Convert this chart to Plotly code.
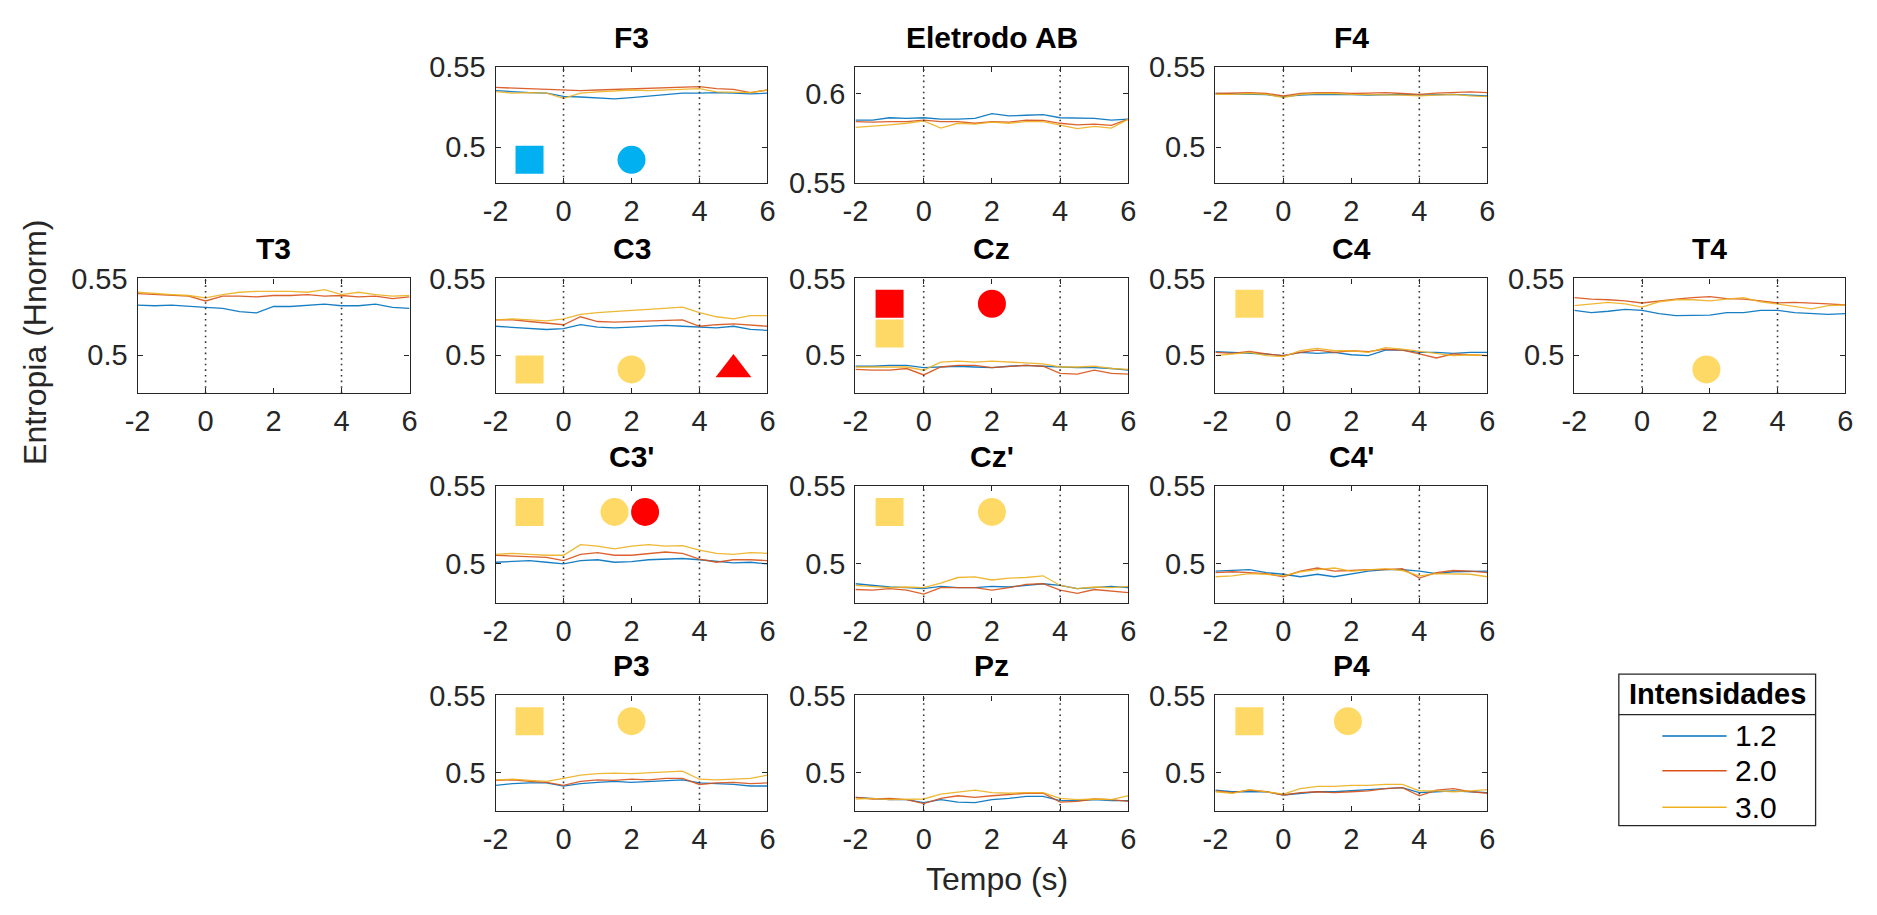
import plotly.graph_objects as go

W, H = 1877, 915

# ---------------- data ----------------
time_s = [-2, -1.5, -1, -0.5, 0, 0.5, 1, 1.5, 2, 2.5, 3, 3.5, 4, 4.5, 5, 5.5, 6]
intensities = ["1.2", "2.0", "3.0"]
x_ticks = [-2, 0, 2, 4, 6]
event_times = [0, 4]

F3_12 = [0.5353,0.5345,0.5341,0.5337,0.5317,0.5313,0.5309,0.5301,0.5309,0.5317,0.5325,0.5337,0.5337,0.5341,0.5337,0.5333,0.5337]
F3_20 = [0.5373,0.5369,0.5369,0.5365,0.5361,0.5353,0.5357,0.5361,0.5365,0.5365,0.5369,0.5373,0.5378,0.5365,0.5361,0.5341,0.5357]
F3_30 = [0.5347,0.5337,0.5341,0.5337,0.5305,0.5337,0.5345,0.5349,0.5357,0.5353,0.5357,0.5361,0.5365,0.5345,0.5341,0.5341,0.5357]

AB_12 = [0.5853,0.5853,0.5866,0.5862,0.5866,0.5858,0.5858,0.5862,0.5889,0.5876,0.5880,0.5884,0.5866,0.5866,0.5862,0.5853,0.5858]
AB_20 = [0.5844,0.5841,0.5844,0.5844,0.5853,0.5844,0.5844,0.5835,0.5844,0.5841,0.5853,0.5851,0.5835,0.5826,0.5830,0.5823,0.5858]
AB_30 = [0.5812,0.5817,0.5826,0.5835,0.5848,0.5808,0.5835,0.5830,0.5841,0.5835,0.5844,0.5844,0.5826,0.5805,0.5817,0.5808,0.5858]

F4_12 = [0.5335,0.5333,0.5330,0.5328,0.5315,0.5325,0.5330,0.5330,0.5328,0.5325,0.5328,0.5330,0.5325,0.5328,0.5330,0.5325,0.5320]
F4_20 = [0.5335,0.5338,0.5340,0.5335,0.5320,0.5335,0.5340,0.5340,0.5335,0.5338,0.5340,0.5335,0.5330,0.5338,0.5340,0.5345,0.5340]
F4_30 = [0.5330,0.5330,0.5335,0.5330,0.5310,0.5330,0.5335,0.5335,0.5330,0.5328,0.5330,0.5325,0.5320,0.5325,0.5330,0.5320,0.5315]

T3_12 = [0.5326,0.5322,0.5326,0.5317,0.5311,0.5305,0.5284,0.5275,0.5317,0.5317,0.5326,0.5332,0.5322,0.5322,0.5332,0.5311,0.5305]
T3_20 = [0.5401,0.5395,0.5389,0.5385,0.5353,0.5385,0.5385,0.5380,0.5389,0.5389,0.5395,0.5385,0.5389,0.5380,0.5385,0.5368,0.5380]
T3_30 = [0.5410,0.5401,0.5395,0.5389,0.5374,0.5395,0.5410,0.5416,0.5416,0.5416,0.5410,0.5427,0.5395,0.5410,0.5395,0.5385,0.5389]

C3_12 = [0.5188,0.5182,0.5173,0.5167,0.5173,0.5198,0.5182,0.5178,0.5182,0.5188,0.5194,0.5188,0.5182,0.5178,0.5188,0.5167,0.5161]
C3_20 = [0.5230,0.5230,0.5219,0.5209,0.5198,0.5250,0.5219,0.5215,0.5219,0.5223,0.5223,0.5230,0.5188,0.5198,0.5203,0.5194,0.5188]
C3_30 = [0.5230,0.5236,0.5230,0.5223,0.5236,0.5265,0.5277,0.5286,0.5292,0.5298,0.5307,0.5313,0.5277,0.5250,0.5236,0.5257,0.5257]

Cz_12 = [0.4927,0.4927,0.4933,0.4933,0.4918,0.4922,0.4927,0.4922,0.4918,0.4927,0.4933,0.4927,0.4922,0.4918,0.4918,0.4912,0.4901]
Cz_20 = [0.4906,0.4901,0.4901,0.4912,0.4870,0.4922,0.4933,0.4933,0.4918,0.4927,0.4933,0.4927,0.4880,0.4876,0.4901,0.4880,0.4876]
Cz_30 = [0.4922,0.4922,0.4918,0.4922,0.4901,0.4954,0.4960,0.4954,0.4960,0.4954,0.4948,0.4943,0.4922,0.4922,0.4927,0.4912,0.4906]

C4_12 = [0.5023,0.5017,0.5011,0.5007,0.4996,0.5017,0.5011,0.5017,0.5002,0.4996,0.5032,0.5032,0.5017,0.5017,0.5011,0.5017,0.5017]
C4_20 = [0.5017,0.5011,0.5023,0.5007,0.4996,0.5017,0.5032,0.5017,0.5028,0.5023,0.5038,0.5032,0.5007,0.4981,0.5007,0.5002,0.4996]
C4_30 = [0.4996,0.5007,0.5017,0.4996,0.4990,0.5028,0.5044,0.5028,0.5028,0.5017,0.5048,0.5038,0.5023,0.5007,0.4996,0.5002,0.4996]

T4_12 = [0.5292,0.5277,0.5286,0.5298,0.5292,0.5271,0.5257,0.5261,0.5261,0.5277,0.5277,0.5292,0.5292,0.5277,0.5271,0.5265,0.5271]
T4_20 = [0.5375,0.5365,0.5361,0.5354,0.5340,0.5354,0.5365,0.5375,0.5381,0.5369,0.5365,0.5354,0.5340,0.5344,0.5340,0.5334,0.5327]
T4_30 = [0.5323,0.5334,0.5344,0.5334,0.5313,0.5348,0.5361,0.5361,0.5354,0.5365,0.5375,0.5348,0.5334,0.5319,0.5302,0.5323,0.5327]

C3p_12 = [0.5010,0.5014,0.5020,0.5010,0.4999,0.5020,0.5026,0.5010,0.5014,0.5026,0.5030,0.5034,0.5026,0.5014,0.5006,0.5010,0.4999]
C3p_20 = [0.5055,0.5051,0.5047,0.5041,0.5020,0.5061,0.5072,0.5055,0.5055,0.5067,0.5076,0.5067,0.5030,0.5010,0.5026,0.5026,0.5020]
C3p_30 = [0.5061,0.5067,0.5061,0.5055,0.5055,0.5123,0.5113,0.5096,0.5113,0.5123,0.5113,0.5117,0.5088,0.5067,0.5061,0.5072,0.5067]

Czp_12 = [0.4872,0.4861,0.4851,0.4847,0.4841,0.4855,0.4847,0.4847,0.4855,0.4851,0.4861,0.4872,0.4861,0.4841,0.4847,0.4855,0.4847]
Czp_20 = [0.4835,0.4831,0.4841,0.4831,0.4806,0.4847,0.4847,0.4847,0.4831,0.4847,0.4868,0.4872,0.4831,0.4810,0.4835,0.4827,0.4815]
Czp_30 = [0.4861,0.4855,0.4847,0.4851,0.4847,0.4876,0.4912,0.4916,0.4896,0.4908,0.4912,0.4923,0.4861,0.4841,0.4851,0.4847,0.4855]

C4p_12 = [0.4953,0.4957,0.4963,0.4943,0.4933,0.4917,0.4933,0.4917,0.4937,0.4953,0.4963,0.4963,0.4953,0.4937,0.4949,0.4953,0.4953]
C4p_20 = [0.4943,0.4949,0.4943,0.4937,0.4917,0.4953,0.4973,0.4953,0.4957,0.4963,0.4963,0.4969,0.4908,0.4943,0.4957,0.4953,0.4943]
C4p_30 = [0.4917,0.4923,0.4937,0.4933,0.4923,0.4949,0.4963,0.4973,0.4953,0.4963,0.4969,0.4957,0.4923,0.4937,0.4937,0.4933,0.4917]

P3_12 = [0.4917,0.4929,0.4933,0.4933,0.4913,0.4929,0.4937,0.4943,0.4937,0.4943,0.4949,0.4953,0.4933,0.4929,0.4923,0.4913,0.4913]
P3_20 = [0.4949,0.4953,0.4943,0.4937,0.4917,0.4943,0.4953,0.4949,0.4957,0.4953,0.4963,0.4963,0.4923,0.4933,0.4937,0.4929,0.4933]
P3_30 = [0.4953,0.4957,0.4949,0.4943,0.4963,0.4983,0.4993,0.4997,0.4993,0.4997,0.5003,0.5009,0.4957,0.4953,0.4957,0.4963,0.4983]

Pz_12 = [0.4839,0.4833,0.4825,0.4825,0.4805,0.4825,0.4809,0.4805,0.4825,0.4833,0.4846,0.4846,0.4819,0.4819,0.4825,0.4819,0.4819]
Pz_20 = [0.4839,0.4829,0.4833,0.4825,0.4799,0.4833,0.4850,0.4839,0.4850,0.4860,0.4866,0.4866,0.4809,0.4813,0.4829,0.4825,0.4813]
Pz_30 = [0.4829,0.4833,0.4825,0.4829,0.4829,0.4860,0.4874,0.4886,0.4870,0.4866,0.4870,0.4870,0.4833,0.4825,0.4829,0.4825,0.4850]

P4_12 = [0.4886,0.4876,0.4876,0.4876,0.4855,0.4866,0.4876,0.4876,0.4882,0.4886,0.4896,0.4903,0.4870,0.4876,0.4882,0.4876,0.4870]
P4_20 = [0.4882,0.4870,0.4886,0.4876,0.4855,0.4870,0.4876,0.4870,0.4876,0.4882,0.4896,0.4903,0.4849,0.4886,0.4896,0.4876,0.4866]
P4_30 = [0.4876,0.4866,0.4890,0.4876,0.4861,0.4896,0.4911,0.4911,0.4917,0.4917,0.4923,0.4923,0.4882,0.4882,0.4876,0.4882,0.4890]

# significance markers (x in s, y in Hnorm, kind)
F3_sig_x = [-1, 2];            F3_sig_y = [0.492, 0.492];             F3_sig_k = ["sq_blue", "ci_blue"]
C3_sig_x = [-1, 2, 5];         C3_sig_y = [0.4906, 0.4906, 0.4906];   C3_sig_k = ["sq_yel", "ci_yel", "tr_red"]
Cz_sig_x = [-1, -1, 2];        Cz_sig_y = [0.5335, 0.514, 0.5335];    Cz_sig_k = ["sq_red", "sq_yel", "ci_red"]
C4_sig_x = [-1];               C4_sig_y = [0.5335];                   C4_sig_k = ["sq_yel"]
T4_sig_x = [1.9];              T4_sig_y = [0.4906];                   T4_sig_k = ["ci_yel"]
C3p_sig_x = [-1, 1.5, 2.4];    C3p_sig_y = [0.5333, 0.5333, 0.5333];  C3p_sig_k = ["sq_yel", "ci_yel", "ci_red"]
Czp_sig_x = [-1, 2];           Czp_sig_y = [0.5333, 0.5333];          Czp_sig_k = ["sq_yel", "ci_yel"]
P3_sig_x = [-1, 2];            P3_sig_y = [0.5333, 0.5333];           P3_sig_k = ["sq_yel", "ci_yel"]
P4_sig_x = [-1, 1.9];          P4_sig_y = [0.5333, 0.5333];           P4_sig_k = ["sq_yel", "ci_yel"]

# ---------------- styles ----------------
FONT = "Liberation Sans, Arial, Helvetica, sans-serif"
AXC = "#262626"
TICK_FS = 29
line_colors = ["#0072BD", "#D95319", "#EDB120"]
kind_style = {
    "sq_blue": ("square", "#00B0F0"), "ci_blue": ("circle", "#00B0F0"),
    "sq_yel": ("square", "#FFD966"), "ci_yel": ("circle", "#FFD966"),
    "sq_red": ("square", "#FF0000"), "ci_red": ("circle", "#FF0000"),
    "tr_red": ("triangle-up", "#FF0000"),
}
col_px = [(126, 401), (488, 763), (852, 1128), (1216, 1491), (1579, 1853)]
row_px = [(53, 173), (272, 391), (487, 608), (704, 824)]

R_TOP = [0.4775, 0.55]
R_STD = [0.475, 0.55]
R_AB = [0.55, 0.615]
T_STD = [0.5, 0.55]
T_AB = [0.55, 0.6]

panels = [
    ("F3", 0, 1, (F3_12, F3_20, F3_30), R_TOP, T_STD, (F3_sig_x, F3_sig_y, F3_sig_k)),
    ("Eletrodo AB", 0, 2, (AB_12, AB_20, AB_30), R_AB, T_AB, None),
    ("F4", 0, 3, (F4_12, F4_20, F4_30), R_TOP, T_STD, None),
    ("T3", 1, 0, (T3_12, T3_20, T3_30), R_STD, T_STD, None),
    ("C3", 1, 1, (C3_12, C3_20, C3_30), R_STD, T_STD, (C3_sig_x, C3_sig_y, C3_sig_k)),
    ("Cz", 1, 2, (Cz_12, Cz_20, Cz_30), R_STD, T_STD, (Cz_sig_x, Cz_sig_y, Cz_sig_k)),
    ("C4", 1, 3, (C4_12, C4_20, C4_30), R_STD, T_STD, (C4_sig_x, C4_sig_y, C4_sig_k)),
    ("T4", 1, 4, (T4_12, T4_20, T4_30), R_STD, T_STD, (T4_sig_x, T4_sig_y, T4_sig_k)),
    ("C3'", 2, 1, (C3p_12, C3p_20, C3p_30), R_STD, T_STD, (C3p_sig_x, C3p_sig_y, C3p_sig_k)),
    ("Cz'", 2, 2, (Czp_12, Czp_20, Czp_30), R_STD, T_STD, (Czp_sig_x, Czp_sig_y, Czp_sig_k)),
    ("C4'", 2, 3, (C4p_12, C4p_20, C4p_30), R_STD, T_STD, None),
    ("P3", 3, 1, (P3_12, P3_20, P3_30), R_STD, T_STD, (P3_sig_x, P3_sig_y, P3_sig_k)),
    ("Pz", 3, 2, (Pz_12, Pz_20, Pz_30), R_STD, T_STD, None),
    ("P4", 3, 3, (P4_12, P4_20, P4_30), R_STD, T_STD, (P4_sig_x, P4_sig_y, P4_sig_k)),
]

fig = go.Figure()
layout = dict(
    width=W, height=H, margin=dict(l=0, r=0, t=0, b=0),
    paper_bgcolor="white", plot_bgcolor="white",
    showlegend=False, font=dict(family=FONT, color=AXC, size=TICK_FS),
)
shapes, annotations = [], []

for i, (title, r, c, series, yr, yt, sig) in enumerate(panels):
    n = i + 1
    xa = "x" if n == 1 else f"x{n}"
    ya = "y" if n == 1 else f"y{n}"
    xl, xr = col_px[c]
    yt_px, yb_px = row_px[r]
    axis_common = dict(
        showgrid=False, zeroline=False, showline=True, linecolor=AXC, linewidth=1.3,
        mirror="ticks", ticks="inside", ticklen=5, tickwidth=1, tickcolor=AXC,
        tickfont=dict(family=FONT, size=TICK_FS, color=AXC),
    )
    layout["xaxis" if n == 1 else f"xaxis{n}"] = dict(
        axis_common, domain=[xl / W, xr / W], range=[time_s[0], time_s[-1]],
        tickvals=x_ticks, ticktext=[str(v) for v in x_ticks], anchor=ya,
        ticklabelstandoff=2,
    )
    layout["yaxis" if n == 1 else f"yaxis{n}"] = dict(
        axis_common, domain=[1 - yb_px / H, 1 - yt_px / H], range=yr,
        tickvals=yt, ticktext=[f"{v:g}" for v in yt], anchor=xa,
        ticklabelstandoff=3,
    )
    for k, ys in enumerate(series):
        fig.add_trace(go.Scatter(
            x=time_s, y=ys, mode="lines", xaxis=xa, yaxis=ya,
            line=dict(color=line_colors[k], width=1.3), opacity=0.9,
            name=intensities[k], hoverinfo="skip",
        ))
    if sig is not None:
        sx, sy, sk = sig
        fig.add_trace(go.Scatter(
            x=sx, y=sy, mode="markers", xaxis=xa, yaxis=ya,
            marker=dict(
                symbol=[kind_style[k][0] for k in sk],
                color=[kind_style[k][1] for k in sk],
                size=[31 if kind_style[k][0] == "triangle-up" else 28 for k in sk],
                opacity=1, line=dict(width=0),
            ),
            hoverinfo="skip",
        ))
    for et in event_times:
        shapes.append(dict(
            type="line", xref=xa, yref=f"{ya} domain", x0=et, x1=et, y0=0, y1=1,
            line=dict(color="#333333", width=1.6, dash="1.6px,4px"), layer="above",
        ))
    annotations.append(dict(
        text=f"<b>{title}</b>", xref="paper", yref="paper",
        x=(xl + xr) / 2 / W, y=1 - yt_px / H, xanchor="center", yanchor="bottom",
        yshift=11, showarrow=False, font=dict(family=FONT, size=30, color="black"),
    ))

# axis labels
annotations.append(dict(
    text="Tempo (s)", xref="paper", yref="paper", x=995 / W, y=1 - 894 / H,
    xanchor="center", yanchor="middle", showarrow=False,
    font=dict(family=FONT, size=32, color=AXC),
))
annotations.append(dict(
    text="Entropia (Hnorm)", xref="paper", yref="paper", x=22 / W, y=1 - 338 / H,
    xanchor="center", yanchor="middle", textangle=-90, showarrow=False,
    font=dict(family=FONT, size=32, color=AXC),
))

# manual legend
lg_l, lg_r, lg_t, lg_b, lg_div = 1624, 1823, 682, 839, 724
shapes.append(dict(type="rect", xref="paper", yref="paper",
                   x0=lg_l / W, x1=lg_r / W, y0=1 - lg_b / H, y1=1 - lg_t / H,
                   line=dict(color=AXC, width=1.3), fillcolor="white", layer="above"))
shapes.append(dict(type="line", xref="paper", yref="paper",
                   x0=lg_l / W, x1=lg_r / W, y0=1 - lg_div / H, y1=1 - lg_div / H,
                   line=dict(color=AXC, width=1.3), layer="above"))
annotations.append(dict(
    text="<b>Intensidades</b>", xref="paper", yref="paper",
    x=(lg_l + lg_r) / 2 / W, y=1 - (lg_t + lg_div) / 2 / H, xanchor="center", yanchor="middle",
    showarrow=False, font=dict(family=FONT, size=29, color="black"),
))
entry_y = [746, 782, 820]
for k, lab in enumerate(intensities):
    shapes.append(dict(type="line", xref="paper", yref="paper",
                       x0=1668 / W, x1=1733 / W, y0=1 - entry_y[k] / H, y1=1 - entry_y[k] / H,
                       line=dict(color=line_colors[k], width=1.5), layer="above"))
    annotations.append(dict(
        text=lab, xref="paper", yref="paper", x=1739 / W, y=1 - entry_y[k] / H,
        xanchor="left", yanchor="middle", showarrow=False,
        font=dict(family=FONT, size=30, color="black"),
    ))

layout["shapes"] = shapes
layout["annotations"] = annotations
fig.update_layout(**layout)
fig.write_html("out.html")
